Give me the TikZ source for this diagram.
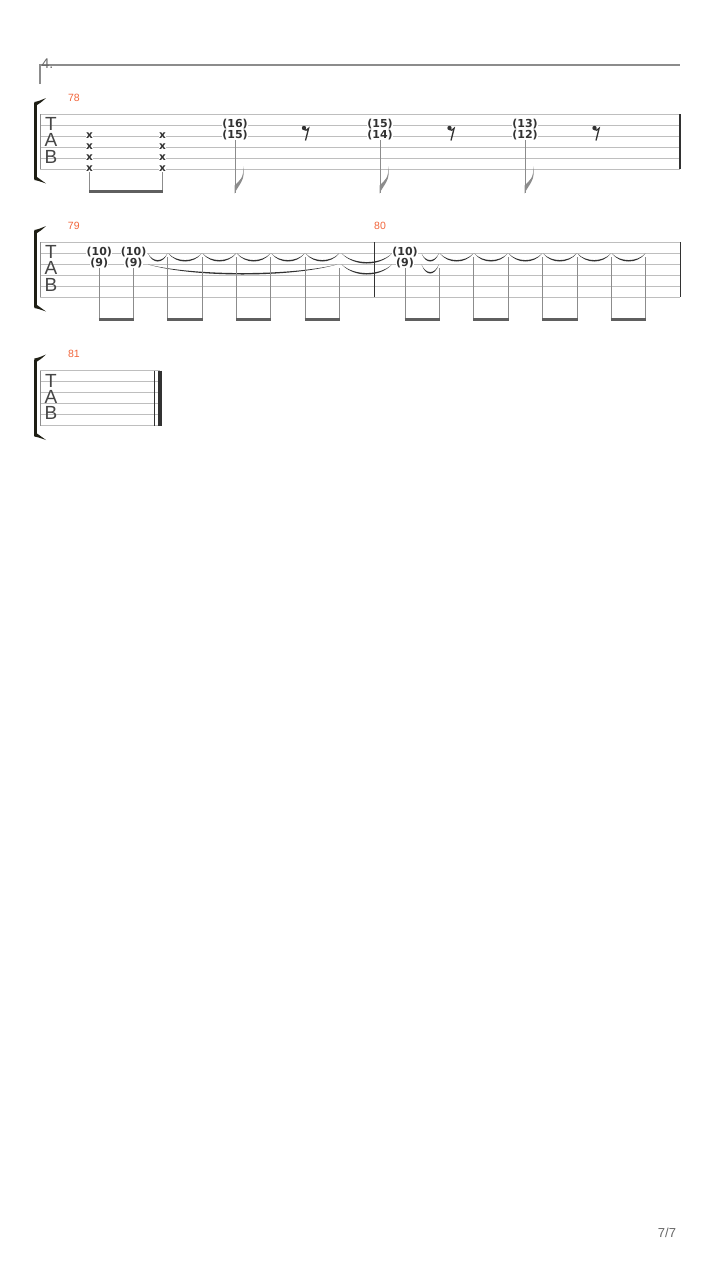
\documentclass[tikz,border=0pt]{standalone}
\usepackage{fontspec}
\setmainfont{DejaVu Sans}
\newfontfamily\tabfont{Liberation Sans}
\usetikzlibrary{positioning, calc}

\definecolor{staffgray}{RGB}{190,190,190}
\definecolor{stemgray}{RGB}{140,140,140}
\definecolor{beamgray}{RGB}{95,95,95}
\definecolor{fretgray}{RGB}{50,50,50}
\definecolor{tabgray}{RGB}{70,70,70}
\definecolor{barnum}{RGB}{242,102,60}
\definecolor{bracketcol}{RGB}{30,30,20}

% tie between x=#1 and x=#2 hanging below y=#3 by #4
\newcommand\tabtie[4]{%
  \fill[fretgray] (#1,#3) .. controls ({#1+(#2-#1)/4},{#3+#4*4/3}) and ({#2-(#2-#1)/4},{#3+#4*4/3}) .. (#2,#3)
    .. controls ({#2-(#2-#1)/4},{#3+#4*4/3-1.9}) and ({#1+(#2-#1)/4},{#3+#4*4/3-1.9}) .. (#1,#3) -- cycle;}

\begin{document}
\begin{tikzpicture}[x=1pt,y=-1pt,
  staffline/.style={draw=staffgray, line width=0.9pt},
  stemline/.style={draw=stemgray, line width=1pt},
  beamline/.style={draw=beamgray, line width=3pt},
  barline/.style={draw=fretgray, line width=1.2pt},
  fret/.style={font=\fontsize{11}{12}\selectfont\bfseries, text=fretgray, fill=white, inner sep=0.3pt},
  xnote/.style={font=\fontsize{10.5}{11}\selectfont\bfseries, text=fretgray, fill=white, inner sep=0.3pt},
  barnumber/.style={font=\tabfont\fontsize{10.5}{12}\selectfont, text=barnum, inner sep=0pt},
  tabclef/.style={font=\tabfont\fontsize{19}{16.3}\selectfont, text=tabgray, inner sep=0pt, align=center},
]
\fill[white] (0,0) rectangle (720,1280);
\useasboundingbox (0,0) rectangle (720,1280);

% volta
\draw[draw=stemgray, line width=1.3pt] (40,84) -- (40,65) -- (680,65);
\node[anchor=west, font=\tabfont\fontsize{14}{14}\selectfont, text=black!60, inner sep=0pt] (volta) at (41.5,63.5) {4.};

% staves
\foreach \sy/\ex/\n in {114/680/1, 242/680/2, 370.5/160/3} {
  \foreach \s in {0,...,5}
    \draw[staffline] (40,{\sy+11*\s}) -- (\ex,{\sy+11*\s});
  \draw[draw=stemgray, line width=1pt] (40,\sy) -- (40,{\sy+55});
  \draw[draw=bracketcol, line width=2.7pt] (35.7,{\sy-11}) -- (35.7,{\sy+65});
  \fill[bracketcol] (34.4,{\sy-9}) -- (34.4,{\sy-12}) .. controls (39,{\sy-13}) .. (46,{\sy-16})
    .. controls (41,{\sy-11.5}) .. (37,{\sy-9}) -- cycle;
  \fill[bracketcol] (34.4,{\sy+63}) -- (34.4,{\sy+66}) .. controls (39,{\sy+67}) .. (46,{\sy+69.5})
    .. controls (41,{\sy+65.5}) .. (37,{\sy+63}) -- cycle;
  \node[tabclef] (tab\n) at (51,{\sy+26.3}) {T\\A\\B};
}

% bar numbers
\node[barnumber] (m78) at (74,98) {78};
\node[barnumber] (m79) at (73.8,226) {79};
\node[barnumber] (m80) at (380,226) {80};
\node[barnumber] (m81) at (74,354) {81};

% system 1
\foreach \xx [count=\k] in {89.5,162.5} {
  \foreach \s in {2,...,5}
    \node[xnote] (x\k\s) at (\xx,{114+11*\s-0.5}) {x};
  \draw[stemline] (x\k5.south) -- (\xx,191);
}
\draw[beamline] (89,191.5) -- (163,191.5);

\foreach \xx/\hi/\lo [count=\k] in {235/16/15, 380/15/14, 525/13/12} {
  \node[fret] (hi\k) at (\xx,124) {(\hi)};
  \node[fret] (lo\k) at (\xx,135) {(\lo)};
  \draw[stemline] (lo\k.south) -- (\xx,193);
  \fill[stemgray] (\xx-0.5,193.5) .. controls (\xx+4,184) and (\xx+11,180) .. (\xx+8,166)
    .. controls (\xx+9.5,178) and (\xx+4,181) .. (\xx-0.5,185.5) -- cycle;
}

\foreach \rx in {306,451.5,596.5} {
  \fill[fretgray] (\rx-2,128) circle (2.2);
  \draw[draw=fretgray, line width=1.3pt] (\rx-2,129.5) .. controls (\rx,130.5) .. (\rx+2.6,128.3) -- (\rx-0.5,140.5);
}
\draw[barline] (680,114) -- (680,169);

% system 2: ties
\foreach \a/\b in {148/167.5, 168.5/201.7, 202.7/236, 237/270.3, 271.3/304.6, 305.6/339,
                   421.5/438.9, 439.9/473.3, 474.3/507.7, 508.7/542.1, 543.1/576.5, 577.5/610.9, 611.9/645.3}
  \tabtie{\a}{\b}{253.5}{8};
\tabtie{341.7}{392}{253.5}{10}
\tabtie{148}{337}{264.5}{10}
\tabtie{341.7}{392}{264.5}{10}
\tabtie{421.5}{438.9}{264.5}{9}

\draw[barline] (374.3,242) -- (374.3,297);
\draw[barline] (680.5,242) -- (680.5,297);

\foreach \xx [count=\k] in {99.3,133.6,405} {
  \node[fret] (up\k) at (\xx,252) {(10)};
  \node[fret] (dn\k) at (\xx,263) {(9)};
  \draw[stemline] (dn\k.south) -- (\xx,319);
}
\foreach \xx/\top in {167.9/257, 202.2/257, 236.5/257, 270.8/257, 305.1/257, 339.4/268,
                      439.4/268, 473.8/257, 508.2/257, 542.6/257, 577/257, 611.4/257, 645.8/257}
  \draw[stemline] (\xx,\top) -- (\xx,319);
\foreach \a/\b in {99.3/133.6, 167.9/202.2, 236.5/270.8, 305.1/339.4,
                   405/439.4, 473.8/508.2, 542.6/577, 611.4/645.8}
  \draw[beamline] (\a-0.5,319.3) -- (\b+0.5,319.3);

% system 3: final bar
\draw[draw=fretgray, line width=1pt] (154.3,370.5) -- (154.3,425.5);
\draw[draw=fretgray, line width=3.5pt] (160,370.5) -- (160,425.5);

% page number
\node[font=\tabfont\fontsize{13}{13}\selectfont, text=black!60] (page) at (667,1232.5) {7/7};
\end{tikzpicture}
\end{document}
